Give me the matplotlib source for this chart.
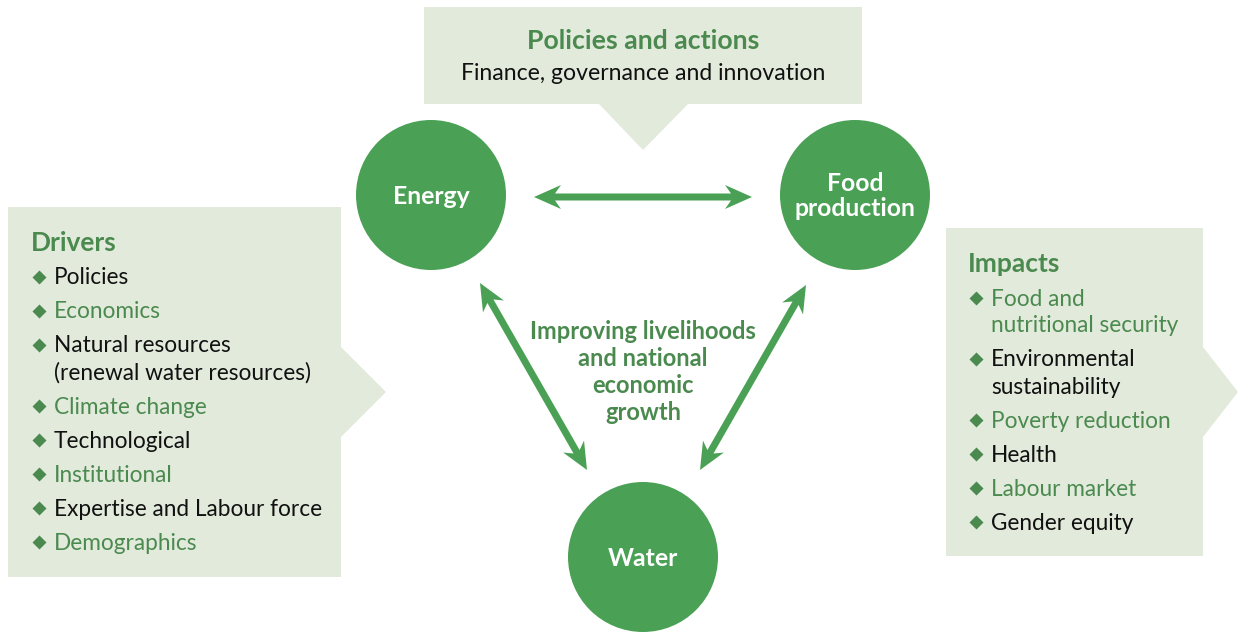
import matplotlib.pyplot as plt
import numpy as np
from matplotlib.patches import Polygon, Circle

plt.rcParams['font.family'] = ['Lato', 'DejaVu Sans']

GREEN = '#4aa155'
DARK = '#4b8a4f'
BOX = '#e2eadc'
BLACK = '#111111'

# ---- texts ----
top_title = "Policies and actions"
top_sub = "Finance, governance and innovation"
centre_text = "Improving livelihoods\nand national\neconomic\ngrowth"

nodes = ["Energy", "Food\nproduction", "Water"]
node_xy = [(431, 195), (855, 195), (643, 557)]
node_r = 75

drivers = ["Policies", "Economics", "Natural resources\n(renewal water resources)",
           "Climate change", "Technological", "Institutional",
           "Expertise and Labour force", "Demographics"]
drivers_green = [False, True, False, True, False, True, False, True]

impacts = ["Food and\nnutritional security", "Environmental\nsustainability",
           "Poverty reduction", "Health", "Labour market", "Gender equity"]
impacts_green = [True, False, True, False, True, False]

fig = plt.figure(figsize=(12.38, 6.34), dpi=100)
ax = fig.add_axes([0, 0, 1, 1])
ax.set_xlim(0, 1238)
ax.set_ylim(634, 0)
ax.axis('off')


def callout(ax, x0, y0, x1, y1, tip, side):
    # box with a triangular pointer, side = 'bottom' or 'right'
    if side == 'bottom':
        bx0, bx1, tx, ty = tip
        pts = [(x0, y0), (x1, y0), (x1, y1), (bx1, y1), (tx, ty), (bx0, y1), (x0, y1)]
    else:
        by0, by1, tx, ty = tip
        pts = [(x0, y0), (x1, y0), (x1, by0), (tx, ty), (x1, by1), (x1, y1), (x0, y1)]
    ax.add_patch(Polygon(pts, closed=True, fc=BOX, ec='none', zorder=1))


callout(ax, 424, 7, 862, 104, (599, 688, 643, 150), 'bottom')
callout(ax, 8, 207, 341, 577, (347, 437, 386, 392), 'right')
callout(ax, 946, 228, 1203, 556, (347, 437, 1238, 392), 'right')

ax.text(643, 41, top_title, ha='center', va='center', fontsize=19.2,
        fontweight='bold', color=DARK)
ax.text(643, 74, top_sub, ha='center', va='center', fontsize=16.6, color=BLACK)

for name, (cx, cy) in zip(nodes, node_xy):
    ax.add_patch(Circle((cx, cy), node_r, fc=GREEN, ec='none', zorder=2))
    ax.text(cx, cy + 1, name, ha='center', va='center', fontsize=17.8,
            fontweight='bold', color='white', zorder=3, linespacing=1.08)

ax.text(643, 372, centre_text, ha='center', va='center', fontsize=17,
        fontweight='bold', color=DARK, linespacing=1.21)


def arrow(ax, p0, p1, shaft=3.5, hl=27, hw=12, notch=6):
    p0 = np.array(p0, float)
    p1 = np.array(p1, float)
    d = (p1 - p0) / np.linalg.norm(p1 - p0)
    n = np.array([-d[1], d[0]])
    pts = [p0,
           p0 + d * hl + n * hw,
           p0 + d * (hl - notch) + n * shaft,
           p1 - d * (hl - notch) + n * shaft,
           p1 - d * hl + n * hw,
           p1,
           p1 - d * hl - n * hw,
           p1 - d * (hl - notch) - n * shaft,
           p0 + d * (hl - notch) - n * shaft,
           p0 + d * hl - n * hw]
    ax.add_patch(Polygon(pts, closed=True, fc=GREEN, ec='none', zorder=2))


arrow(ax, (534, 197), (752, 197))
arrow(ax, (480, 283), (587, 470))
arrow(ax, (806, 285), (700, 470))


def bullet_list(ax, x, y, title, items, greens, step=34, cont=27):
    ax.text(x - 23, y + 1, title, ha='left', va='center', fontsize=19,
            fontweight='bold', color=DARK)
    y += step
    for item, g in zip(items, greens):
        col = DARK if g else BLACK
        ax.plot([x - 15], [y + 1], marker='D', ms=7, color=DARK, mec='none')
        lines = item.split('\n')
        for k, line in enumerate(lines):
            ax.text(x, y + 2 + k * cont, line, ha='left', va='center',
                    fontsize=16.3, color=col)
        y += step + (len(lines) - 1) * cont


bullet_list(ax, 54, 242, "Drivers", drivers, drivers_green)
bullet_list(ax, 991, 263, "Impacts", impacts, impacts_green)

fig.savefig('out.png', dpi=100)
